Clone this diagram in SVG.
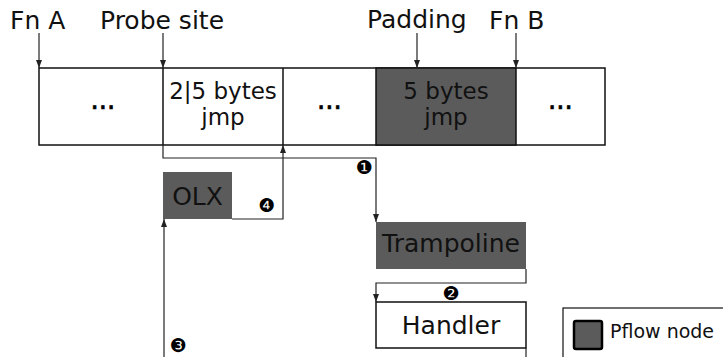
<svg xmlns="http://www.w3.org/2000/svg" width="723" height="357" viewBox="0 0 723 357">
  <defs>
    <marker id="arr" viewBox="0 0 8 8" refX="8" refY="4" markerWidth="8" markerHeight="8" markerUnits="userSpaceOnUse" orient="auto">
      <path d="M0,1 L8,4 L0,7 Z" fill="#222"/>
    </marker>
  </defs>
  <style>
    text { font-family: "DejaVu Sans", "Liberation Sans", sans-serif; fill: #111; }
    .lbl { font-size: 25px; }
    .cell { font-size: 23px; text-anchor: middle; }
    .dots { font-size: 26px; text-anchor: middle; fill: #000; stroke: #000; stroke-width: 0.7; }
    .node { font-size: 25px; text-anchor: middle; }
    .num { font-size: 19px; text-anchor: middle; fill: #000; }
    .box { stroke: #111; stroke-width: 1.5; }
    .dark { fill: #5b5b5b; }
    .light { fill: #fff; }
    .conn { fill: none; stroke: #222; stroke-width: 1.2; }
  </style>
  <rect width="723" height="357" fill="#fff"/>

  <!-- address labels -->
  <g id="labels">
    <text class="lbl" x="10" y="29">Fn A</text>
    <text class="lbl" x="100" y="29">Probe site</text>
    <text class="lbl" x="367" y="28">Padding</text>
    <text class="lbl" x="489" y="29">Fn B</text>
  </g>

  <!-- code layout row -->
  <g id="code-row">
    <rect class="box light" x="39" y="68" width="566" height="77"/>
    <rect class="box dark" x="376" y="68" width="140" height="77"/>
    <line class="box" x1="163" y1="68" x2="163" y2="145"/>
    <line class="box" x1="283" y1="68" x2="283" y2="145"/>
    <text class="dots" x="103" y="109">...</text>
    <text class="cell" x="223" y="99">2|5 bytes</text>
    <text class="cell" x="223" y="125">jmp</text>
    <text class="dots" x="329.5" y="109">...</text>
    <text class="cell" x="446" y="99">5 bytes</text>
    <text class="cell" x="446" y="125">jmp</text>
    <text class="dots" x="560.5" y="109">...</text>
  </g>

  <g id="olx">
    <rect class="dark" x="163" y="172" width="69" height="47"/>
    <text class="node" x="197.5" y="205">OLX</text>
  </g>

  <g id="trampoline">
    <rect class="dark" x="376" y="222" width="150" height="47"/>
    <text class="node" x="451" y="252">Trampoline</text>
  </g>

  <g id="handler">
    <rect class="box light" x="376" y="302" width="150" height="46"/>
    <text class="node" x="451" y="334">Handler</text>
  </g>

  <g id="legend">
    <rect x="563" y="308" width="170" height="60" fill="#fff" stroke="#111" stroke-width="1.2"/>
    <rect x="574" y="321" width="28" height="28" rx="2" fill="#5b5b5b" stroke="#000" stroke-width="2.5"/>
    <text x="610" y="338" style="font-size:19px">Pflow node</text>
  </g>

  <!-- connectors -->
  <g id="connectors">
    <line class="conn" x1="39" y1="33" x2="39" y2="68" marker-end="url(#arr)"/>
    <line class="conn" x1="163" y1="33" x2="163" y2="68" marker-end="url(#arr)"/>
    <line class="conn" x1="417" y1="33" x2="417" y2="68" marker-end="url(#arr)"/>
    <line class="conn" x1="516" y1="33" x2="516" y2="68" marker-end="url(#arr)"/>
    <!-- 1: probe jump to trampoline -->
    <polyline class="conn" points="163,145 163,158 376,158 376,222" marker-end="url(#arr)"/>
    <!-- 2: trampoline to handler -->
    <polyline class="conn" points="526,269 526,283 376,283 376,302" marker-end="url(#arr)"/>
    <!-- handler continues down -->
    <line class="conn" x1="526" y1="348" x2="526" y2="357"/>
    <!-- 3: back up into OLX -->
    <line class="conn" x1="164" y1="357" x2="164" y2="219" marker-end="url(#arr)"/>
    <!-- 4: OLX returns after probe site -->
    <polyline class="conn" points="232,219 283,219 283,145" marker-end="url(#arr)"/>
    <text class="num" x="364" y="174">❶</text>
    <text class="num" x="451" y="300">❷</text>
    <text class="num" x="178" y="352">❸</text>
    <text class="num" x="267" y="212">❹</text>
  </g>
</svg>
